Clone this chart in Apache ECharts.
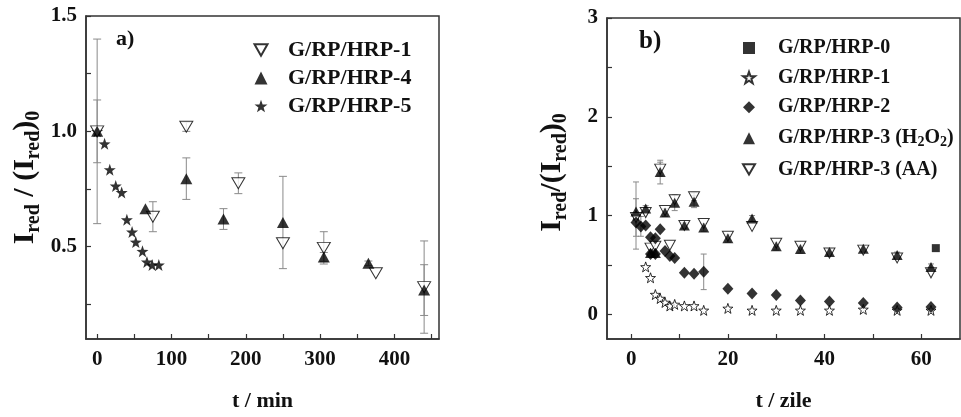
<!DOCTYPE html>
<html><head><meta charset="utf-8">
<script src="https://cdn.jsdelivr.net/npm/echarts@6/dist/echarts.min.js"></script>
<style>html,body{margin:0;padding:0;background:#fff}#c{width:961px;height:417px}</style>
</head><body><div id="c"></div>
<script>
// ---------- Panel a) : t / min ----------
const aTicksX = [0, 50, 100, 150, 200, 250, 300, 350, 400, 450];
const aLabelsX = [0, 100, 200, 300, 400];
const aTicksY = [0.25, 0.5, 0.75, 1.0, 1.25, 1.5];
const aLabelsY = [0.5, 1.0, 1.5];

const aT1 = [0, 75, 120, 190, 250, 305, 375, 440];
const aV1 = [1.0, 0.63, 1.02, 0.775, 0.515, 0.495, 0.385, 0.325];
const aE1 = [0.4, 0.065, 0.02, 0.045, 0, 0.07, 0, 0.2];

const aT4 = [0, 65, 120, 170, 250, 305, 365, 440];
const aV4 = [1.0, 0.665, 0.795, 0.62, 0.605, 0.455, 0.428, 0.312];
const aE4 = [0.136, 0, 0.09, 0.045, 0.2, 0.02, 0.01, 0.11];

const aT5 = [0, 10, 17, 25, 33, 40, 47, 52, 61, 67, 74, 83];
const aV5 = [1.0, 0.946, 0.834, 0.763, 0.735, 0.617, 0.564, 0.52, 0.48, 0.434, 0.421, 0.421];

// ---------- Panel b) : t / zile ----------
const bTicksX = [0, 10, 20, 30, 40, 50, 60];
const bLabelsX = [0, 20, 40, 60];
const bTicksY = [0, 0.5, 1, 1.5, 2, 2.5, 3];
const bLabelsY = [0, 1, 2, 3];

const bT0 = [63];
const bV0 = [0.67];

const bT1 = [1, 3, 4, 5, 6, 7, 8, 9, 11, 13, 15, 20, 25, 30, 35, 41, 48, 55, 62];
const bV1 = [1.0, 0.48, 0.37, 0.2, 0.16, 0.12, 0.085, 0.1, 0.085, 0.085, 0.04, 0.06, 0.04, 0.04, 0.04, 0.04, 0.05, 0.04, 0.04];
const bE1 = [0.34, 0, 0, 0, 0, 0, 0, 0, 0, 0, 0, 0, 0, 0, 0, 0, 0, 0, 0];

const bT2 = [1, 2, 3, 4, 5, 4, 5, 6, 7, 8, 9, 11, 13, 15, 20, 25, 30, 35, 41, 48, 55, 62];
const bV2 = [0.93, 0.89, 0.9, 0.78, 0.77, 0.61, 0.61, 0.86, 0.64, 0.59, 0.57, 0.42, 0.41, 0.43, 0.26, 0.21, 0.195, 0.14, 0.13, 0.115, 0.07, 0.075];
const bE2 = [0, 0.1, 0, 0, 0, 0, 0, 0, 0, 0, 0, 0, 0, 0.18, 0, 0, 0, 0, 0, 0, 0, 0];

const bT3H = [1, 3, 4, 5, 6, 7, 9, 11, 13, 15, 20, 25, 30, 35, 41, 48, 55, 62];
const bV3H = [1.04, 1.07, 0.62, 0.62, 1.44, 1.03, 1.13, 0.9, 1.14, 0.88, 0.77, 0.97, 0.69, 0.66, 0.63, 0.665, 0.6, 0.48];
const bE3H = [0, 0.03, 0, 0, 0.12, 0.04, 0.08, 0.03, 0.06, 0.04, 0.04, 0.03, 0.04, 0.04, 0.03, 0.03, 0.03, 0.03];

const bT3A = [1, 3, 4, 5, 6, 7, 8, 9, 11, 13, 15, 20, 25, 30, 35, 41, 48, 55, 62];
const bV3A = [0.98, 1.03, 0.67, 0.69, 1.47, 1.05, 0.70, 1.16, 0.9, 1.19, 0.92, 0.79, 0.89, 0.72, 0.69, 0.62, 0.65, 0.57, 0.42];
const bE3A = [0.19, 0, 0, 0, 0.07, 0, 0, 0, 0, 0.04, 0, 0, 0, 0, 0, 0, 0, 0, 0];

const N1 = 'G/RP/HRP-1', N4 = 'G/RP/HRP-4', N5 = 'G/RP/HRP-5';
const B0 = 'G/RP/HRP-0', B2 = 'G/RP/HRP-2', B3H = 'G/RP/HRP-3 (H2O2)', B3A = 'G/RP/HRP-3 (AA)';

const FONT = "'Liberation Serif', 'Times New Roman', serif";
const STAR = 'path://M5,0 L6.18,3.38 L9.76,3.45 L6.9,5.62 L7.94,9.05 L5,7 L2.06,9.05 L3.1,5.62 L0.24,3.45 L3.82,3.38 Z';
const DOWN = 'path://M0,0 L10,0 L5,8.66 Z';
const AXC = '#333';

function pairs(ts, vs) { return ts.map((t, i) => [t, vs[i]]); }

function errSeries(gi, ts, vs, es, capHalf) {
  const data = [];
  ts.forEach((t, i) => { if (es[i] > 0) data.push([t, vs[i] - es[i], vs[i] + es[i]]); });
  return {
    type: 'custom', xAxisIndex: gi, yAxisIndex: gi, z: 1, silent: true, data,
    encode: { x: 0, y: [1, 2] },
    renderItem: (params, api) => {
      const lo = api.coord([api.value(0), api.value(1)]);
      const hi = api.coord([api.value(0), api.value(2)]);
      const st = { stroke: '#8a8a8a', lineWidth: 1 };
      return { type: 'group', children: [
        { type: 'line', shape: { x1: lo[0], y1: lo[1], x2: hi[0], y2: hi[1] }, style: st },
        { type: 'line', shape: { x1: lo[0] - capHalf, y1: lo[1], x2: lo[0] + capHalf, y2: lo[1] }, style: st },
        { type: 'line', shape: { x1: hi[0] - capHalf, y1: hi[1], x2: hi[0] + capHalf, y2: hi[1] }, style: st }
      ]};
    }
  };
}

function xAx(gi, min, max, ticks, labels, name) {
  return {
    type: 'value', gridIndex: gi, min, max,
    axisLine: { show: true, onZero: false, lineStyle: { color: AXC, width: 1.5 } },
    axisTick: { show: true, inside: true, length: 5, customValues: ticks, lineStyle: { color: AXC, width: 1.2 } },
    axisLabel: { customValues: labels, margin: 10, fontFamily: FONT, fontWeight: 'bold', fontSize: 21, color: '#111' },
    splitLine: { show: false },
    name, nameLocation: 'middle', nameGap: 51,
    nameTextStyle: { fontFamily: FONT, fontWeight: 'bold', fontSize: 22, color: '#111' }
  };
}
function yAx(gi, min, max, ticks, labels, fmt, name, gap, pad) {
  return {
    type: 'value', gridIndex: gi, min, max,
    axisLine: { show: true, onZero: false, lineStyle: { color: AXC, width: 1.5 } },
    axisTick: { show: true, inside: true, length: 5, customValues: ticks, lineStyle: { color: AXC, width: 1.2 } },
    axisLabel: { customValues: labels, margin: 9, formatter: fmt, fontFamily: FONT, fontWeight: 'bold', fontSize: 21, color: '#111' },
    splitLine: { show: false },
    name, nameLocation: 'middle', nameRotate: 90, nameGap: gap,
    nameTextStyle: {
      color: '#111', padding: pad,
      rich: {
        m: { fontFamily: FONT, fontWeight: 'bold', fontSize: 30, lineHeight: 34, color: '#111' },
        s: { fontFamily: FONT, fontWeight: 'bold', fontSize: 20, lineHeight: 20, padding: [18, 0, 0, 0], color: '#111' }
      }
    }
  };
}

const legendRich = (fs) => ({
  m: { fontFamily: FONT, fontWeight: 'bold', fontSize: fs, lineHeight: 20, color: '#111' },
  s: { fontFamily: FONT, fontWeight: 'bold', fontSize: Math.round(fs * 0.7), lineHeight: 10, padding: [9, 0, 0, 0], color: '#111' }
});
const legendFmt = (name) => name === B3H
  ? '{m|G/RP/HRP-3 (H}{s|2}{m|O}{s|2}{m|)}'
  : '{m|' + name + '}';

const open = { color: '#fff', borderColor: '#000', borderWidth: 1 };
const filled = { color: '#000' };

const option = {
  animation: false,
  backgroundColor: '#fff',
  grid: [
    { left: 86, top: 16, width: 353, height: 330, show: true, borderColor: AXC, borderWidth: 1.5, backgroundColor: 'transparent' },
    { left: 607, top: 18, width: 353, height: 324, show: true, borderColor: AXC, borderWidth: 1.5, backgroundColor: 'transparent' }
  ],
  xAxis: [
    xAx(0, -15, 460, aTicksX, aLabelsX, 't / min'),
    xAx(1, -5, 68, bTicksX, bLabelsX, 't / zile')
  ],
  yAxis: [
    yAx(0, 0.1, 1.5, aTicksY, aLabelsY, v => v.toFixed(1), '{m|I}{s|red}{m| / (I}{s|red}{m|)}{s|0}', 44, 0),
    yAx(1, -0.25, 3, bTicksY, bLabelsY, v => String(Math.round(v)), '{m|I}{s|red}{m|/(I}{s|red}{m|)}{s|0}', 38, [0, 0, 0, 12])
  ],
  legend: [
    {
      orient: 'vertical', left: 253.5, top: 39, padding: 0, itemGap: 6,
      itemWidth: 13, itemHeight: 13,
      data: [{ name: N1, icon: DOWN }, { name: N4, icon: 'triangle' }, { name: N5, icon: STAR }],
      formatter: legendFmt, textStyle: { padding: [0, 0, 0, 15.5], rich: legendRich(22) }
    },
    {
      orient: 'vertical', left: 742, top: 38, padding: 0, itemGap: 9.6,
      itemWidth: 12, itemHeight: 12,
      data: [{ name: B0, icon: 'rect' }, { name: N1, icon: STAR }, { name: B2, icon: 'diamond' },
             { name: B3H, icon: 'triangle' }, { name: B3A, icon: DOWN }],
      formatter: legendFmt, textStyle: { padding: [0, 0, 0, 18], rich: legendRich(20) }
    }
  ],
  graphic: [
    { type: 'text', left: 116, top: 28, style: { text: 'a)', font: "bold 22px 'Liberation Serif', serif", fill: '#111' } },
    { type: 'text', left: 639, top: 29, style: { text: 'b)', font: "bold 25px 'Liberation Serif', serif", fill: '#111' } }
  ],
  series: [
    errSeries(0, aT1, aV1, aE1, 4),
    errSeries(0, aT4, aV4, aE4, 4),
    { type: 'scatter', name: N5, xAxisIndex: 0, yAxisIndex: 0, z: 3, symbol: STAR, symbolSize: 12, itemStyle: filled, data: pairs(aT5, aV5) },
    { type: 'scatter', name: N1, xAxisIndex: 0, yAxisIndex: 0, z: 4, symbol: DOWN, symbolSize: [13, 11], itemStyle: open, data: pairs(aT1, aV1) },
    { type: 'scatter', name: N4, xAxisIndex: 0, yAxisIndex: 0, z: 5, symbol: 'triangle', symbolSize: [12, 11], itemStyle: filled, data: pairs(aT4, aV4) },

    errSeries(1, bT1, bV1, bE1, 3),
    errSeries(1, bT2, bV2, bE2, 3),
    errSeries(1, bT3H, bV3H, bE3H, 3),
    errSeries(1, bT3A, bV3A, bE3A, 3),
    { type: 'scatter', name: N1, xAxisIndex: 1, yAxisIndex: 1, z: 3, symbol: STAR, symbolSize: 10, itemStyle: open, data: pairs(bT1, bV1) },
    { type: 'scatter', name: B3A, xAxisIndex: 1, yAxisIndex: 1, z: 3, symbol: DOWN, symbolSize: [11, 10], itemStyle: open, data: pairs(bT3A, bV3A) },
    { type: 'scatter', name: B2, xAxisIndex: 1, yAxisIndex: 1, z: 4, symbol: 'diamond', symbolSize: [11, 12], itemStyle: filled, data: pairs(bT2, bV2) },
    { type: 'scatter', name: B3H, xAxisIndex: 1, yAxisIndex: 1, z: 5, symbol: 'triangle', symbolSize: [11, 10], itemStyle: filled, data: pairs(bT3H, bV3H) },
    { type: 'scatter', name: B0, xAxisIndex: 1, yAxisIndex: 1, z: 5, symbol: 'rect', symbolSize: 8, itemStyle: filled, data: pairs(bT0, bV0) }
  ]
};

const chart = echarts.init(document.getElementById('c'), null, { renderer: 'canvas' });
chart.setOption(option);
</script>
</body></html>
